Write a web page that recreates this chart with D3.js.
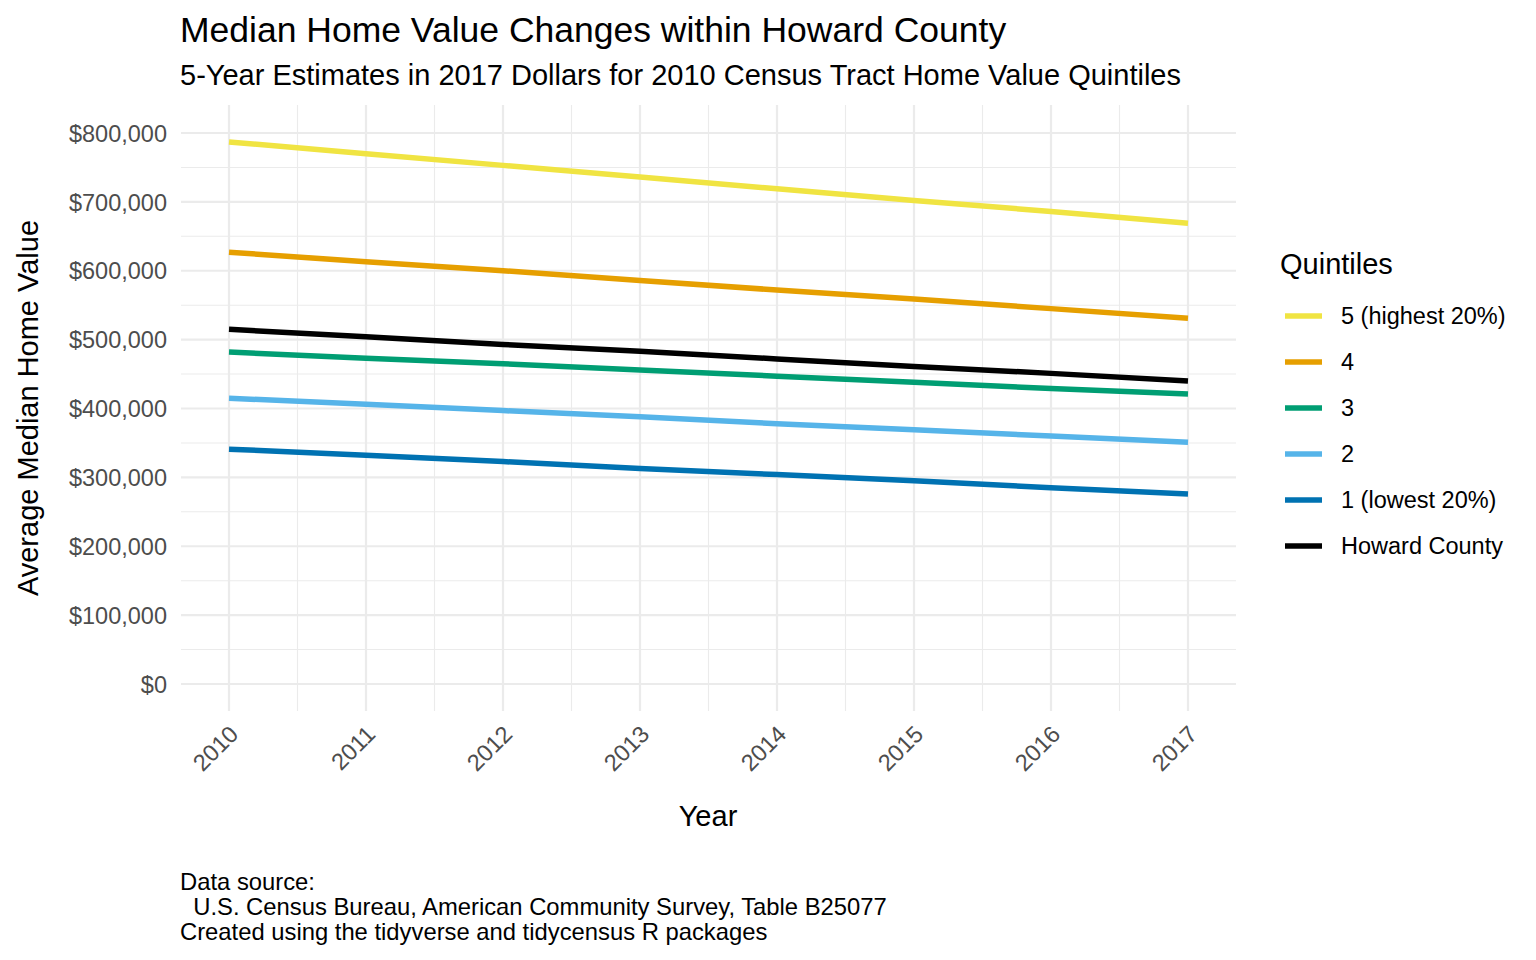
<!DOCTYPE html>
<html>
<head>
<meta charset="utf-8">
<script src="https://cdn.jsdelivr.net/npm/d3@7"></script>
<style>
  body { margin: 0; background: #fff; }
  text { font-family: "Liberation Sans", Arial, sans-serif; }
</style>
</head>
<body>
<svg width="1536" height="960"></svg>
<script>
// Data
const years = [2010, 2011, 2012, 2013, 2014, 2015, 2016, 2017];
const q5 = [787000, 770000, 753000, 736000, 719000, 702000, 686000, 669000];
const q4 = [627000, 613000, 600000, 586000, 572000, 559000, 545000, 531000];
const q3 = [482000, 473000, 465000, 456000, 447000, 438000, 429000, 421000];
const q2 = [415000, 406000, 397000, 388000, 378000, 369000, 360000, 351000];
const q1 = [341000, 332000, 323000, 313000, 304000, 295000, 285000, 276000];
const howard = [515000, 504000, 493000, 483000, 472000, 461000, 451000, 440000];
const seriesNames = ["5 (highest 20%)", "4", "3", "2", "1 (lowest 20%)", "Howard County"];
const yTicks = [0, 100000, 200000, 300000, 400000, 500000, 600000, 700000, 800000];

const colors = ["#F0E442", "#E69F00", "#009E73", "#56B4E9", "#0072B2", "#000000"];
const series = [q5, q4, q3, q2, q1, howard].map((v, i) => ({ name: seriesNames[i], color: colors[i], values: v }));

let svg = d3.select("svg");

// panel
const panelLeft = 181, panelRight = 1236, panelTop = 105, panelBottom = 711;
let x = d3.scaleLinear().domain([2010, 2017]).range([229, 1188]);
let y = d3.scaleLinear().domain([0, 800000]).range([684, 133]);

// minor grid
let minorX = d3.range(2010.5, 2017, 1);
let minorY = d3.range(50000, 800000, 100000);
svg.append("g").selectAll("line").data(minorX).join("line")
  .attr("x1", d => x(d)).attr("x2", d => x(d)).attr("y1", panelTop).attr("y2", panelBottom)
  .attr("stroke", "#ebebeb").attr("stroke-width", 1.1);
svg.append("g").selectAll("line").data(minorY).join("line")
  .attr("x1", panelLeft).attr("x2", panelRight).attr("y1", d => y(d)).attr("y2", d => y(d))
  .attr("stroke", "#ebebeb").attr("stroke-width", 1.1);

// major grid
svg.append("g").selectAll("line").data(years).join("line")
  .attr("x1", d => x(d)).attr("x2", d => x(d)).attr("y1", panelTop).attr("y2", panelBottom)
  .attr("stroke", "#ebebeb").attr("stroke-width", 2.2);
svg.append("g").selectAll("line").data(yTicks).join("line")
  .attr("x1", panelLeft).attr("x2", panelRight).attr("y1", d => y(d)).attr("y2", d => y(d))
  .attr("stroke", "#ebebeb").attr("stroke-width", 2.2);

// y axis labels
let yAxis = d3.axisLeft(y).tickValues(yTicks).tickSize(0).tickPadding(0)
  .tickFormat(d => "$" + d3.format(",")(d));
let gy = svg.append("g").attr("transform", "translate(167,0)").call(yAxis);
gy.select(".domain").remove();
gy.selectAll("text").attr("font-size", 23.5).attr("fill", "#4d4d4d")
  .attr("font-family", "Liberation Sans, Arial, sans-serif").attr("dy", "0.35em");

// x axis labels, rotated
svg.append("g").selectAll("text").data(years).join("text")
  .attr("transform", d => `translate(${x(d) - 1},${724}) rotate(-45)`)
  .attr("text-anchor", "end").attr("dy", "0.7em")
  .attr("font-size", 23.5).attr("fill", "#4d4d4d")
  .text(d => d);

// lines
let line = d3.line().x((d, i) => x(years[i])).y(d => y(d));
svg.append("g").selectAll("path").data(series).join("path")
  .attr("d", d => line(d.values))
  .attr("fill", "none").attr("stroke", d => d.color).attr("stroke-width", 5.5);

// titles
svg.append("text").attr("x", 180).attr("y", 42).attr("font-size", 35.5).attr("fill", "#000")
  .text("Median Home Value Changes within Howard County");
svg.append("text").attr("x", 180).attr("y", 85).attr("font-size", 29).attr("fill", "#000")
  .text("5-Year Estimates in 2017 Dollars for 2010 Census Tract Home Value Quintiles");
svg.append("text").attr("transform", "translate(38,408) rotate(-90)")
  .attr("text-anchor", "middle").attr("font-size", 29).text("Average Median Home Value");
svg.append("text").attr("x", 708).attr("y", 826).attr("text-anchor", "middle")
  .attr("font-size", 29).text("Year");

// legend
let legend = svg.append("g");
legend.append("text").attr("x", 1280).attr("y", 274).attr("font-size", 29).text("Quintiles");
let items = legend.selectAll("g").data(series).join("g")
  .attr("transform", (d, i) => `translate(0,${316 + i * 46})`);
items.append("line").attr("x1", 1285).attr("x2", 1322).attr("y1", 0).attr("y2", 0)
  .attr("stroke", d => d.color).attr("stroke-width", 5.5);
items.append("text").attr("x", 1341).attr("y", 0).attr("dy", "0.35em")
  .attr("font-size", 23.5).text(d => d.name);

// caption
let caption = ["Data source:", "  U.S. Census Bureau, American Community Survey, Table B25077",
  "Created using the tidyverse and tidycensus R packages"];
svg.append("g").selectAll("text").data(caption).join("text")
  .attr("x", 180).attr("y", (d, i) => 890 + i * 25)
  .attr("font-size", 23.8).style("white-space", "pre")
  .text(d => d);
</script>
</body>
</html>
